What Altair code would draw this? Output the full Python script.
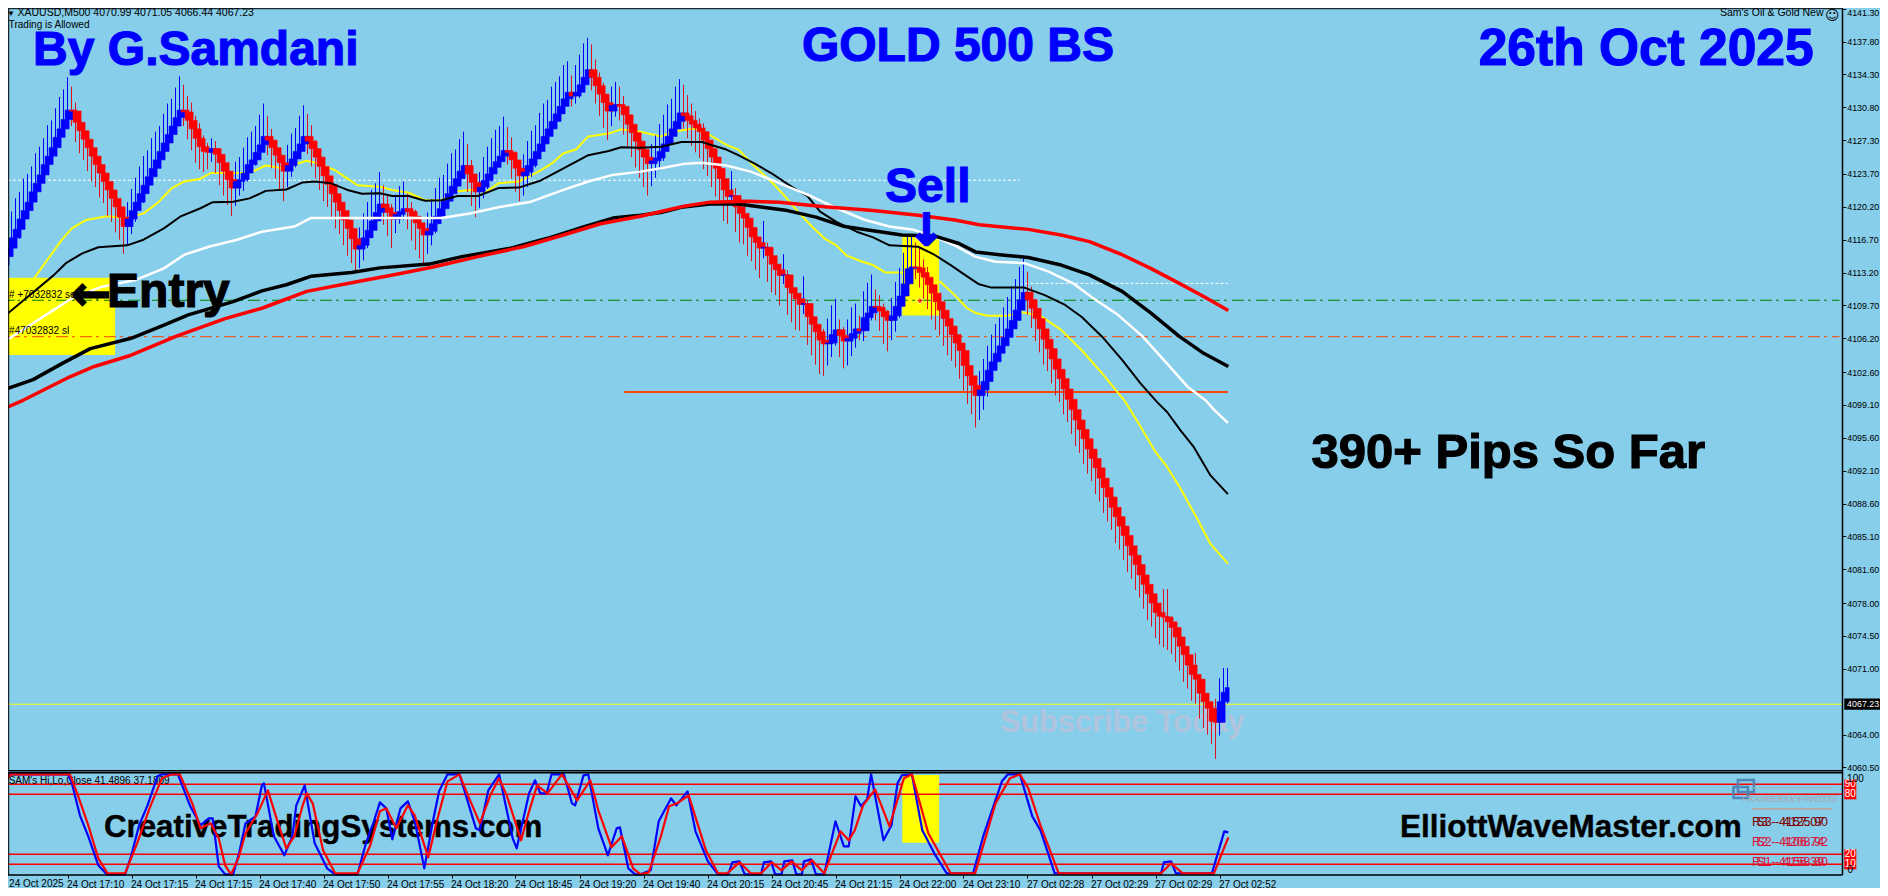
import json
import altair as alt
import pandas as pd

BG = "#87CEEB"
closes = [
4114.9,4115.8,4116.9,4117.8,4118.9,4119.8,4120.7,4121.8,4122.7,4123.6,
4124.7,4125.6,4126.5,4127.6,4128.5,4129.5,4130.5,4130.4,4129.2,4128.3,
4127.4,4126.5,4125.6,4124.7,4123.8,4122.9,4122.0,4121.1,4120.2,4119.1,
4118.1,4118.9,4119.8,4120.7,4121.6,4122.5,4123.4,4124.3,4125.2,4126.1,
4127.0,4127.9,4128.8,4129.7,4130.5,4130.3,4129.4,4128.5,4127.5,4126.6,
4126.1,4126.0,4126.4,4125.8,4124.9,4124.0,4123.1,4122.2,4122.9,4123.1,
4123.8,4124.7,4125.2,4126.0,4126.8,4127.7,4127.3,4126.5,4125.7,4124.9,
4124.0,4124.6,4125.3,4126.1,4126.9,4127.7,4127.2,4126.4,4125.5,4124.5,
4123.5,4122.6,4121.6,4120.7,4119.8,4118.8,4117.9,4116.8,4115.7,4116.1,
4116.9,4117.7,4118.7,4119.6,4120.5,4120.1,4119.6,4118.9,4119.4,4119.7,
4120.0,4119.7,4119.2,4118.5,4117.9,4117.2,4117.6,4118.4,4119.2,4120.0,
4120.8,4121.6,4122.4,4123.2,4124.0,4124.6,4123.7,4122.8,4121.8,4122.3,
4123.0,4123.7,4124.4,4125.0,4125.6,4126.2,4126.0,4125.2,4124.3,4123.5,
4123.9,4124.6,4125.3,4126.1,4126.9,4127.7,4128.5,4129.3,4130.1,4130.9,
4131.7,4132.4,4132.0,4132.4,4133.2,4134.0,4134.8,4134.0,4133.1,4132.2,
4131.3,4130.4,4131.0,4131.1,4130.9,4130.0,4129.0,4128.1,4127.2,4126.3,
4125.5,4124.8,4125.1,4125.4,4126.1,4126.9,4127.7,4128.5,4129.3,4130.2,
4129.9,4129.4,4129.0,4128.6,4128.2,4127.3,4126.4,4125.5,4124.3,4123.2,
4122.0,4121.3,4121.4,4120.2,4119.5,4119.0,4118.0,4117.0,4116.4,4115.8,
4115.9,4115.0,4114.1,4113.5,4112.9,4112.95,4111.6,4111.0,4110.4,4109.8,
4109.9,4108.5,4107.7,4106.9,4106.0,4105.6,4105.7,4106.6,4107.1,4106.5,
4105.9,4106.2,4106.7,4107.2,4107.0,4108.4,4108.9,4109.6,4109.5,4109.1,
4108.5,4108.1,4108.6,4109.6,4110.7,4112.0,4113.6,4113.8,4113.7,4113.2,
4112.7,4111.9,4111.0,4110.1,4109.2,4108.3,4107.5,4106.6,4105.7,4104.9,
4103.3,4102.2,4101.2,4100.1,4100.7,4101.6,4102.8,4103.7,4104.6,4105.4,
4106.3,4107.2,4108.1,4109.2,4110.3,4111.1,4110.3,4109.4,4108.3,4107.2,
4106.1,4105.1,4104.0,4102.9,4101.9,4100.8,4099.7,4098.6,4097.5,4096.5,
4095.5,4094.4,4093.4,4092.4,4091.3,4090.3,4089.3,4088.2,4087.2,4086.2,
4085.2,4084.1,4083.1,4082.1,4081.0,4080.0,4079.0,4078.0,4077.0,4076.6,
4076.5,4076.0,4075.4,4074.4,4073.4,4072.5,4071.4,4070.4,4069.9,4068.4,
4067.5,4066.8,4065.4,4065.3,4067.5,4068.5,4069.0]
upper_wick = [
2.6,3.1,2.8,3.3,2.9,3.4,3.0,2.7,3.2,3.0,
2.8,3.3,2.9,3.1,3.4,3.2,3.5,2.5,0.9,1.2,
0.5,0.8,0.4,0.7,0.3,0.6,0.5,0.3,0.6,0.4,
0.3,1.8,2.3,2.6,2.9,3.1,2.8,3.2,3.0,2.7,
3.1,3.3,2.9,3.2,3.6,2.7,1.7,1.9,1.4,1.6,
1.2,0.9,1.1,0.8,0.6,0.5,0.4,0.5,2.1,2.4,
2.7,2.9,3.0,2.8,3.2,3.5,2.2,1.2,0.8,0.5,
0.6,2.2,2.7,2.5,3.0,3.3,2.4,1.7,0.9,0.8,
0.6,0.5,0.7,0.4,0.6,0.3,0.5,0.4,0.3,1.9,
2.6,3.0,3.3,3.1,3.4,2.0,1.4,0.9,2.1,2.7,
2.9,1.6,1.0,0.7,0.5,0.4,2.0,2.6,3.0,3.3,
2.8,3.2,3.5,3.1,3.4,3.6,2.3,1.5,0.8,1.6,
2.5,2.9,3.1,3.4,3.2,3.6,2.5,1.6,0.9,0.5,
1.9,2.6,3.0,2.8,3.3,3.5,3.1,3.7,3.4,3.2,
3.6,3.3,1.8,2.9,3.2,3.6,3.4,2.7,1.9,1.4,
1.2,0.8,2.0,2.4,1.9,1.1,0.9,0.6,0.5,0.7,
0.4,0.5,1.8,2.4,2.9,3.1,3.4,3.2,3.7,3.6,
3.0,2.2,1.8,1.4,1.0,0.9,0.6,0.7,0.5,0.8,
0.4,0.6,2.6,0.8,0.7,0.4,0.5,0.3,0.6,0.5,
2.8,0.5,0.4,0.6,0.3,2.2,0.5,0.4,0.3,0.5,
2.9,0.4,0.6,0.3,0.5,1.2,2.6,3.1,3.3,1.1,
0.9,2.0,2.8,2.7,1.4,2.8,3.2,3.4,1.8,1.3,
0.8,0.7,1.9,2.6,3.0,3.3,3.6,3.3,2.6,2.2,
1.4,1.1,0.7,0.6,0.5,0.4,0.6,0.3,0.5,0.4,
0.5,0.3,0.4,0.2,2.0,2.4,2.6,2.9,3.1,3.0,
3.2,3.4,3.6,3.3,3.5,3.7,2.2,1.4,1.0,0.6,
0.5,0.4,0.6,0.3,0.5,0.4,0.3,0.5,0.4,0.3,
0.4,0.3,0.5,0.2,0.4,0.3,0.5,0.4,0.3,0.4,
0.3,0.4,0.5,0.3,0.2,0.4,0.3,0.5,0.4,0.3,
2.9,3.0,0.6,0.4,0.5,0.3,0.4,0.5,2.3,0.4,
0.5,0.9,0.7,2.4,2.5,2.6,2.1]
lower_wick = [
1.2,0.8,0.9,0.7,1.0,0.6,0.8,0.9,0.5,0.7,
0.6,0.8,0.5,0.7,0.4,0.6,0.5,1.6,2.1,2.4,
2.2,2.5,2.7,2.4,2.6,2.3,2.8,2.5,2.7,2.4,
2.9,1.9,1.6,1.2,0.9,1.0,0.7,0.8,0.6,0.7,
0.5,0.6,0.4,0.7,0.5,1.5,2.0,2.3,2.6,2.4,
2.2,1.8,1.0,2.0,2.4,2.6,2.7,3.0,1.9,1.5,
1.2,0.9,0.8,0.6,0.7,0.5,1.6,2.2,2.5,2.8,
3.2,1.7,1.2,0.9,0.6,0.5,1.4,1.9,2.3,2.5,
2.7,2.4,2.6,2.8,2.5,2.7,2.9,2.6,2.4,2.0,
1.6,1.1,0.8,0.9,0.6,1.8,2.5,3.1,1.5,1.0,
0.9,1.9,2.6,2.9,3.2,3.3,2.0,1.5,1.0,0.8,
0.7,0.5,0.6,0.4,0.5,0.6,1.9,2.5,2.7,1.7,
1.2,0.9,0.8,0.6,0.5,0.4,1.3,2.0,2.5,2.7,
2.1,1.6,1.2,0.9,0.8,0.6,0.7,0.5,0.6,0.4,
0.5,0.6,1.1,0.8,0.6,0.5,0.4,1.4,1.9,2.3,
2.7,3.1,1.6,1.2,1.5,2.1,2.4,2.6,2.8,3.0,
3.2,3.4,2.4,1.8,1.3,1.0,0.8,0.7,0.5,0.4,
1.4,1.9,2.3,2.6,2.8,3.1,2.9,3.2,3.0,2.7,
3.3,2.9,0.9,2.7,3.1,2.8,3.0,2.6,2.9,3.2,
1.1,2.8,3.0,2.7,3.2,0.9,2.9,3.1,3.3,2.8,
1.0,3.0,3.3,3.5,3.6,3.4,2.3,1.5,1.2,2.3,
2.9,2.6,1.9,1.5,1.0,1.1,1.3,0.8,1.4,2.1,
2.9,3.3,2.1,1.7,1.2,0.9,0.7,0.6,1.2,1.6,
2.3,2.6,2.8,3.0,2.7,2.9,3.1,2.8,2.6,3.0,
2.7,3.0,3.1,3.4,2.6,2.1,1.6,1.2,1.0,0.8,
0.7,0.6,0.5,0.6,0.4,0.5,1.6,2.1,2.4,2.5,
2.7,2.4,2.6,2.8,2.5,2.7,2.4,2.6,2.8,2.5,
2.7,2.6,2.4,2.8,2.5,2.7,2.6,2.4,2.8,2.5,
2.6,2.8,2.5,2.7,2.4,2.6,2.8,2.5,2.7,3.0,
3.2,3.0,2.8,2.7,2.6,2.9,2.5,2.8,2.6,2.7,
2.8,2.8,2.4,3.9,1.4,0.9,1.2]
if not (len(closes) == len(upper_wick) == len(lower_wick)):
    raise SystemExit(f"lengths {len(closes)} {len(upper_wick)} {len(lower_wick)}")

yellow_ma = [(0,4108.6),(8,4112.8),(14.6,4116.7),(17.1,4117.9),(20.7,4118.8),(25.8,4119.2),(30.9,4119.0),(35,4119.5),(38.5,4120.6),(42.1,4122.2),(45.2,4122.9),(49.25,4123.2),(51.8,4123.8),(59.5,4123.8),(62.5,4124),(65.6,4124.6),(69.7,4124.3),(75.8,4125.1),(78.8,4124.8),(82.9,4124.1),(86,4123.2),(88.5,4122.5),(94.1,4122.35),(97.2,4122),(101.3,4121.7),(105.4,4120.9),(109.5,4120.9),(112.5,4121.8),(116.6,4122),(120.7,4121.8),(123.7,4122.7),(128.8,4122.9),(134,4124),(137,4124.8),(140,4125.9),(143.1,4126.3),(146.2,4127.7),(151.3,4128),(154.4,4128.45),(159.25,4128.2),(164.35,4127.7),(167.4,4128.2),(172.5,4128.55),(176.6,4127.85),(180.7,4126.8),(183.7,4126.3),(187.8,4124.5),(191.9,4122.9),(195,4121.5),(199,4119.5),(202.1,4118.1),(205.2,4116.85),(208.2,4116.1),(210.8,4115),(214.4,4114.4),(217.4,4114),(220.5,4113.2),(224.6,4113.2),(234.3,4112.2),(237.8,4110.8),(240.9,4109.4),(243,4108.9),(246,4108.6),(251.1,4108.6),(254.2,4109),(259.25,4108.6),(264.4,4107.1),(269.5,4104.95),(274.6,4102.5),(280.2,4099.6),(284.25,4096.8),(288,4094.1),(290.9,4092.5),(294.25,4090.2),(298.4,4087),(301.75,4084.3),(306.1,4082.2)]
black_thin_ma = [(0.07,4108.5),(12.5,4112.9),(15.6,4114.2),(19.7,4115.25),(23.7,4115.9),(30.9,4116.1),(35,4116.7),(40.1,4117.9),(44.15,4119.15),(49.25,4120.05),(52.3,4120.7),(57.4,4120.75),(61.5,4121.1),(65.6,4121.9),(70.7,4122.05),(74.8,4122.8),(77.8,4122.9),(81.9,4122.7),(86,4122),(89.6,4121.6),(94.1,4121.65),(97.2,4121.35),(101.3,4121.35),(105.4,4120.85),(109.5,4120.9),(113.5,4121.35),(118.6,4121.35),(123.7,4122.2),(128.8,4122.25),(134,4122.95),(140,4124.3),(146.2,4125.7),(151.3,4126.15),(154.4,4126.55),(159.25,4126.5),(164.35,4126.6),(169.45,4127.1),(174.55,4127.1),(180.7,4126.3),(183.7,4125.7),(187.8,4124.8),(191.9,4123.8),(197,4122.35),(201.1,4121.3),(204.15,4119.7),(208.2,4118.6),(213.3,4117.55),(217.4,4116.95),(221.5,4116.1),(228.65,4115.95),(232.7,4115.1),(236.8,4114),(240.9,4112.8),(243.9,4111.95),(247,4111.6),(255.2,4111.6),(260.3,4110.8),(265.4,4109.75),(269.5,4108.5),(274.6,4106.4),(279.65,4103.9),(284.25,4101.4),(288.4,4099.4),(290.9,4098.35),(294.25,4096.4),(297.6,4094.6),(301.75,4091.6),(306.1,4089.6)]
white_ma = [(0.07,4105.8),(12.5,4109.2),(17.6,4110.6),(24.75,4111.7),(32.9,4112.4),(40.1,4113.65),(45.2,4115.1),(51.3,4115.95),(58.4,4116.7),(64.6,4117.55),(72.7,4118.1),(76.8,4119),(94.1,4119),(109.5,4119),(116.6,4119.5),(123.7,4120.15),(131.9,4120.75),(140,4122),(146.2,4122.9),(152.3,4123.6),(159.25,4123.95),(164.35,4124.3),(170.5,4124.8),(174.55,4124.9),(180.7,4124.6),(186.8,4123.95),(190.9,4123.25),(197,4122.2),(202.1,4121.3),(208.2,4120.05),(215.4,4118.8),(221.5,4118.1),(227.6,4117.75),(233.7,4116.85),(237.8,4116.1),(242.9,4114.9),(248,4114.35),(255.2,4114.2),(261.3,4113.3),(267.4,4112.05),(272.5,4110.45),(278.6,4108.7),(284.75,4106.4),(290.9,4103.5),(296,4101.05),(300.5,4099.6),(302.6,4098.6),(306.1,4097.2)]
black_thick_ma = [(0.07,4100.7),(7.4,4101.8),(14.6,4103.5),(21.7,4105.1),(31.9,4106.2),(40.1,4107.6),(46.2,4108.7),(57.4,4110.1),(64.6,4111.25),(70.7,4111.9),(76.8,4112.8),(87,4113.2),(94.1,4113.7),(106.4,4114.1),(114.6,4114.9),(126.8,4115.8),(136,4116.85),(145.2,4118.1),(152.3,4119),(159.25,4119.3),(164.35,4119.6),(169.45,4120.15),(176.6,4120.5),(183.7,4120.5),(189.85,4120.15),(196,4119.8),(203.1,4119.1),(210.3,4118.1),(217.4,4117.65),(224.6,4117.2),(232.7,4117.1),(238.85,4116.3),(243,4115.4),(249,4115.1),(256.2,4114.8),(264.4,4114),(271.5,4112.95),(279.65,4111.2),(286.8,4108.9),(293.95,4106.4),(300.05,4104.6),(306.2,4103.2)]
red_ma = [(0,4098.7),(4.9,4099.6),(16.6,4102.1),(22.7,4103.2),(31.9,4104.4),(43.1,4106.4),(55.4,4108.3),(64.6,4109.4),(75.8,4111.2),(88,4112.2),(99.25,4113.1),(107.4,4113.8),(118.6,4114.9),(129.9,4115.95),(140,4117.2),(149.25,4118.4),(159.25,4119.2),(164.35,4119.7),(170.5,4120.3),(176.6,4120.7),(185.8,4120.8),(194,4120.7),(205.2,4120.2),(217.4,4119.8),(228.65,4119.3),(237.8,4118.8),(243.95,4118.3),(256.2,4117.8),(264.4,4117.2),(271.5,4116.5),(279.65,4115.1),(286.8,4113.65),(293.95,4112.05),(300.05,4110.65),(306.2,4109.15)]

stoch_k = [(0.1,98),(1.8,100),(16.1,100),(17.1,91),(19.1,59),(21.2,38),(23.7,9),(25.8,0),(30.4,0),(31.9,18),(33.9,49),(36,69),(38.5,98),(39.6,100),(43.6,100),(46.7,68),(49.25,49),(51.3,56),(52.3,56),(53.8,8),(55.4,0),(57.4,0),(58.9,21),(60.5,51),(63,58),(64.6,89),(65.1,91),(67.6,38),(70.2,19),(72.2,38),(73.2,69),(75.3,89),(77.8,31),(80.9,6),(82.9,0),(88.5,0),(90.6,31),(92.6,53),(94.1,72),(95.7,66),(97.2,35),(99.25,66),(101.1,73),(102.8,53),(103.8,34),(105.2,6),(107.4,54),(108.9,83),(111,100),(114,100),(118.1,46),(119.1,44),(121.2,84),(123.9,100),(127.3,36),(128.3,26),(131.4,81),(132.9,94),(134.2,81),(135.8,81),(137,100),(140.1,100),(142.1,71),(142.9,69),(145,99),(146.2,100),(148.7,46),(151.1,19),(153.3,46),(154.1,47),(156.2,6),(157.9,0),(159.25,0),(161.8,4),(163.8,53),(166.9,76),(168.2,69),(171,83),(173,43),(176.1,13),(178.6,0),(181.2,0),(182.2,12),(184,13),(185.3,0),(189.4,0),(190.1,12),(191.9,13),(192.9,0),(194.5,0),(195.2,13),(197.2,14),(198.2,0),(199.6,0),(200.1,13),(201.9,15),(203.1,0),(205.2,0),(208,53),(210.1,28),(211.3,28),(213,78),(214.4,68),(215.9,75),(216.9,100),(220,34),(222,49),(223.5,91),(224.6,99),(227.1,100),(229.7,44),(232.7,21),(235.8,1),(242.4,1),(245,39),(249.6,93),(251.1,100),(254.1,100),(257.2,58),(259.25,44),(262.8,1),(289.4,1),(290.1,12),(291.9,13),(293.1,1),(302.1,1),(305.2,43),(306.2,42)]
stoch_d = [(0.1,91),(1.8,100),(16.6,100),(18.6,79),(21.2,49),(23.7,16),(26,1),(30.4,1),(33.4,31),(36.5,66),(39.6,96),(42.1,100),(44.1,100),(47.2,71),(49.25,46),(51.8,51),(53.8,36),(55.4,9),(56.9,0),(58.9,18),(60.5,41),(63.5,61),(66.1,84),(68.1,58),(70.7,26),(72.7,38),(74.8,69),(75.8,81),(77.3,71),(79.9,24),(82.9,1),(88.5,1),(91.6,28),(94.1,63),(95.7,66),(98.2,46),(101.1,69),(102.8,59),(106.2,17),(108.4,54),(111,93),(114,100),(116.1,79),(119.1,51),(121.7,79),(123.9,96),(125.8,79),(129.4,34),(131.4,63),(133.4,89),(136,81),(139.6,100),(143.4,74),(146.7,94),(148.7,64),(152,27),(154.6,38),(157.4,6),(159.25,0),(161.3,2),(164.35,38),(166.4,68),(168.4,71),(171.3,79),(175.6,24),(178.6,1),(180.9,1),(184,12),(186.8,1),(189.4,1),(192.1,12),(194.5,4),(197,13),(199.6,4),(202.1,14),(205.2,1),(209.25,43),(211.3,34),(212.8,44),(214.9,69),(217.9,85),(221.5,48),(225.1,96),(227.1,100),(231.2,41),(236.8,1),(242.9,1),(248,71),(251.6,96),(254.1,100),(256.2,86),(259.25,49),(263.8,1),(289.4,1),(291.9,11),(294.8,1),(302.6,1),(306.2,37)]

price_ticks = [4141.30,4137.80,4134.30,4130.80,4127.30,4123.70,4120.20,4116.70,4113.20,4109.70,4106.20,4102.60,4099.10,4095.60,4092.10,4088.60,4085.10,4081.60,4078.00,4074.50,4071.00,4064.00,4060.50]
time_labels = ["24 Oct 2025","24 Oct 17:10","24 Oct 17:15","24 Oct 17:15","24 Oct 17:40","24 Oct 17:50","24 Oct 17:55","24 Oct 18:20","24 Oct 18:45","24 Oct 19:20","24 Oct 19:40","24 Oct 20:15","24 Oct 20:45","24 Oct 21:15","24 Oct 22:00","24 Oct 23:10","27 Oct 02:28","27 Oct 02:29","27 Oct 02:29","27 Oct 02:52"]
levels = [90, 80, 20, 10]
last_price = 4067.23

X0, XR = 1.125, 459.75
xs = alt.Scale(domain=[1.125, 469.125], nice=False, zero=False)
ps = alt.Scale(domain=[4047.66, 4141.375], nice=False, zero=False)
os_ = alt.Scale(domain=[-13.67, 866.33], nice=False, zero=False)
SANS = "Liberation Sans"

def ex(field="x"):
    return alt.X(f"{field}:Q", scale=xs, axis=None)

def why(scale, field="y"):
    return alt.Y(f"{field}:Q", scale=scale, axis=None)

def hline(scale, y, x1=X0, x2=459.0, **mk):
    d = pd.DataFrame({"x": [x1], "x2": [x2], "y": [y]})
    return alt.Chart(d).mark_rule(**mk).encode(x=ex(), x2="x2:Q", y=why(scale))

def vline(scale, x, y1, y2, **mk):
    d = pd.DataFrame({"x": [x], "y": [y1], "y2": [y2]})
    return alt.Chart(d).mark_rule(**mk).encode(x=ex(), y=why(scale), y2="y2:Q")

def box(scale, x1, x2, y1, y2, **mk):
    d = pd.DataFrame({"x": [x1], "x2": [x2], "y": [y1], "y2": [y2]})
    return alt.Chart(d).mark_rect(**mk).encode(x=ex(), x2="x2:Q", y=why(scale), y2="y2:Q")

def note(scale, text, x, y, size, color="#000000", font=SANS, bold=False, align="left",
         baseline="alphabetic", stroke=0):
    d = pd.DataFrame({"x": [x], "y": [y], "t": [text]})
    kw = dict(fontSize=size, font=font, color=color, align=align, baseline=baseline,
              fontWeight="bold" if bold else "normal")
    if stroke:
        kw.update(stroke=color, strokeWidth=stroke)
    return alt.Chart(d).mark_text(**kw).encode(x=ex(), y=why(scale), text="t:N")

def curve(scale, pts, color, width):
    d = pd.DataFrame(pts, columns=["x", "y"]).assign(o=range(len(pts)))
    return alt.Chart(d).mark_line(color=color, strokeWidth=width, strokeJoin="round").encode(
        x=ex(), y=why(scale), order="o:Q")

rows = []
prev = closes[0] - 0.9
for i, c in enumerate(closes):
    hi_b, lo_b = max(prev, c), min(prev, c)
    rows.append(dict(x=i, xa=i - 0.6, xb=min(i + 1.4, 306.4), open=prev, close=c,
                     high=hi_b + upper_wick[i], low=lo_b - lower_wick[i],
                     dir="up" if c >= prev else "down"))
    prev = c
bars = pd.DataFrame(rows)

dirscale = alt.Scale(domain=["up", "down"], range=["#0000FF", "#FF0000"])
wickscale = alt.Scale(domain=["up", "down"], range=["#0000FF", "#DD1122"])
wicks = alt.Chart(bars).mark_rule(strokeWidth=1).encode(
    x=ex(), y=why(ps, "low"), y2="high:Q", color=alt.Color("dir:N", scale=wickscale, legend=None))
bodies = alt.Chart(bars).mark_rect(strokeWidth=0.6).encode(
    x=ex("xa"), x2="xb:Q", y=why(ps, "open"), y2="close:Q",
    color=alt.Color("dir:N", scale=dirscale, legend=None),
    stroke=alt.Stroke("dir:N", scale=dirscale, legend=None))

axis_layer = alt.Chart(pd.DataFrame({"x": [X0], "x2": [XR], "y": [last_price]})).mark_rule(
    color="#FFFF00", strokeWidth=1).encode(
    x=ex(), x2="x2:Q",
    y=alt.Y("y:Q", scale=ps, axis=alt.Axis(orient="right", offset=-37.3, values=price_ticks, format=".2f", title=None,
            grid=False, domain=False, tickSize=3, tickColor="#000000", labelPadding=1, labelColor="#000000",
            labelBaseline=alt.expr("datum.value > 4141 ? 'top' : 'middle'"),
            labelFont=SANS, labelFontSize=8.9, labelOverlap=False, labelBound=False)))

labels_expr = json.dumps(time_labels)
x_axis_layer = alt.Chart(pd.DataFrame({"x": [X0], "x2": [XR], "y": [90]})).mark_rule(
    color="#FF0000", strokeWidth=1.5).encode(
    x=alt.X("x:Q", scale=xs, axis=alt.Axis(orient="bottom", offset=-13, values=[16 * k for k in range(1, 20)],
            labelExpr=f"{labels_expr}[round(datum.value/16)]", title=None, grid=False, domain=False,
            tickSize=3, tickColor="#000000", labelAlign="left", labelBaseline="top", labelPadding=1, labelOffset=-1,
            labelFont=SANS, labelFontSize=10, labelColor="#000000", labelOverlap=False, labelBound=False)),
    x2="x2:Q", y=why(os_))

DASHDOT = [12, 4, 3, 5]
diamond = alt.Chart(pd.DataFrame({"x": [229.1], "y": [4110.2]})).mark_point(
    shape="diamond", size=40, filled=True, color="#FF0000", stroke="#FFFFFF", strokeWidth=1).encode(x=ex(), y=why(ps))

layers = [
    axis_layer,
    x_axis_layer,
    hline(ps, 4123.03, X0, 254.0, color="#FFFFFF", strokeWidth=1, strokeDash=[3, 2]),
    hline(ps, 4112.05, 255.5, 306.1, color="#FFFFFF", strokeWidth=1, strokeDash=[3, 2]),
    box(ps, X0, 27.9, 4112.65, 4104.42, color="#FFFF00"),
    box(ps, 224.7, 233.9, 4117.02, 4108.63, color="#FFFF00"),
    hline(ps, 4110.25, color="#008000", strokeWidth=1, strokeDash=DASHDOT),
    hline(ps, 4106.37, color="#FF4500", strokeWidth=1, strokeDash=DASHDOT),
    hline(ps, 4100.48, 155.2, 306.1, color="#FF4500", strokeWidth=2),
    curve(ps, yellow_ma, "#FFFF00", 2),
    note(ps, "Subscribe Today", 249.1, 4064.27, 30.7, "#B0C4DE", bold=True),
    wicks, bodies,
    curve(ps, black_thin_ma, "#000000", 2),
    curve(ps, white_ma, "#FFFFFF", 2.5),
    curve(ps, black_thick_ma, "#000000", 3.5),
    curve(ps, red_ma, "#FF0000", 3.5),
    diamond,
    note(ps, "\u25BC", 0.9, 4140.47, 8),
    note(ps, "XAUUSD,M500  4070.99 4071.05 4066.44 4067.23", 3.5, 4140.47, 10.5),
    note(ps, "Trading is Allowed", 1.3, 4139.25, 10),
    note(ps, "Sam's Oil & Gold New", 455, 4140.47, 10.5, align="right"),
    note(ps, "\u263A", 455.4, 4140.1, 14, font="DejaVu Sans"),
    note(ps, "# +7032832 sell stop", 1.4, 4110.5, 10),
    note(ps, "#47032832 sl", 1.4, 4106.66, 10),
    note(ps, "By G.Samdani", 7.4, 4135.3, 48, "#0000FF", bold=True, stroke=1.2),
    note(ps, "GOLD 500 BS", 199.6, 4135.73, 48, "#0000FF", bold=True, stroke=1.2),
    note(ps, "26th Oct 2025", 368.8, 4135.3, 51.5, "#0000FF", bold=True, stroke=1.2),
    note(ps, "Sell", 220.4, 4120.71, 48, "#0000FF", bold=True, stroke=1.2),
    note(ps, "\u2193", 230.75, 4116.1, 44, "#0000FF", font="DejaVu Sans", bold=True, align="center", stroke=2),
    note(ps, "\u2190", 16.9, 4109.2, 48, font="DejaVu Sans", bold=True, stroke=1.5),
    note(ps, "Entry", 25.9, 4109.53, 48, bold=True, stroke=1.2),
    note(ps, "390+ Pips So Far", 327.0, 4092.39, 49, bold=True, stroke=1.2),
    box(ps, 460.2, 470.2, 4067.83, 4066.63, color="#000000"),
    note(ps, "4067.23", 460.9, last_price, 8.9, "#FFFFFF", baseline="middle"),
    hline(ps, 4141.3, X0, XR, color="#000000", strokeWidth=1),
    hline(ps, 4060.15, X0, XR, color="#000000", strokeWidth=1.5),
    vline(ps, 1.3, 4141.3, 4060.15, color="#000000", strokeWidth=1),
    box(os_, 224.7, 233.9, 99.3, 31.7, color="#FFFF00"),
    note(os_, "CreativeTradingSystems.com", 25.1, 37.7, 31.3, bold=True, stroke=0.4),
    note(os_, "ElliottWaveMaster.com", 349.1, 37.7, 31.5, bold=True, stroke=0.4),
    note(os_, "SAM's Hi,Lo,Close 41.4896 37.1809", 1.3, 93, 10, baseline="middle"),
]
layers += [hline(os_, v, X0, XR, color="#FF0000", strokeWidth=1.5) for v in levels[1:]]
layers += [
    curve(os_, stoch_k, "#0000FF", 2.2),
    curve(os_, stoch_d, "#FF0000", 2.2),
    box(os_, 433.6, 437.6, 94.3, 82.3, filled=False, stroke="#4F86B8", strokeWidth=2.5),
    box(os_, 432.5, 436.1, 87.3, 76.3, filled=False, stroke="#4F86B8", strokeWidth=2.5),
    hline(os_, 86.3, 437.1, 457.1, color="#A8B4BC", strokeWidth=1),
    hline(os_, 65.3, 437.1, 457.1, color="#B4AEA8", strokeWidth=2),
    note(os_, "FX-WEEKLY PIVOTS", 434.6, 75.3, 9.5, "#9FB0BE", baseline="middle"),
    note(os_, "FX WEEKLY PIVOTS", 436.0, 75.3, 9.5, "#9FB0BE", baseline="middle"),
]
for v, col, a, b in [(52.7, "#800000", "R3 - 4157.07", "S3 - 4125.90"),
                     (32.7, "#DC143C", "R2 - 4106.74", "S2 - 4208.92"),
                     (12.7, "#DC143C", "R1 - 4156.39", "S1 - 4158.80")]:
    layers.append(note(os_, a, 437.1, v, 12.5, col, baseline="middle"))
    layers.append(note(os_, b, 438.2, v, 12.5, col, baseline="middle"))
for v in levels:
    layers.append(box(os_, 460.2, 463.2, v + 5, v - 5, color="#FF0000"))
    layers.append(note(os_, str(v), 461.7, v, 10, "#FFFFFF", align="center", baseline="middle"))
layers += [
    note(os_, "100", 460.9, 95, 10, baseline="middle"),
    note(os_, "0", 461, 4.3, 10, baseline="middle"),
    note(os_, time_labels[0], 1.4, -10, 10, baseline="middle"),
    hline(os_, 101.63, X0, XR, color="#000000", strokeWidth=1.5),
    hline(os_, -0.67, X0, XR, color="#000000", strokeWidth=1.5),
    vline(os_, XR, -0.67, 866.0, color="#000000", strokeWidth=1.5),
    vline(os_, 1.3, -0.67, 101.63, color="#000000", strokeWidth=1),
]

chart = alt.layer(*layers).resolve_scale(
    y="independent", color="independent", stroke="independent"
).resolve_axis(y="independent", x="independent").properties(
    width=1872, height=880, padding=0, background=BG,
    autosize=alt.AutoSizeParams(type="none"),
).configure_view(strokeWidth=0, fill=BG)

chart.save("out.html", embed_options={"renderer": "svg", "actions": False})
